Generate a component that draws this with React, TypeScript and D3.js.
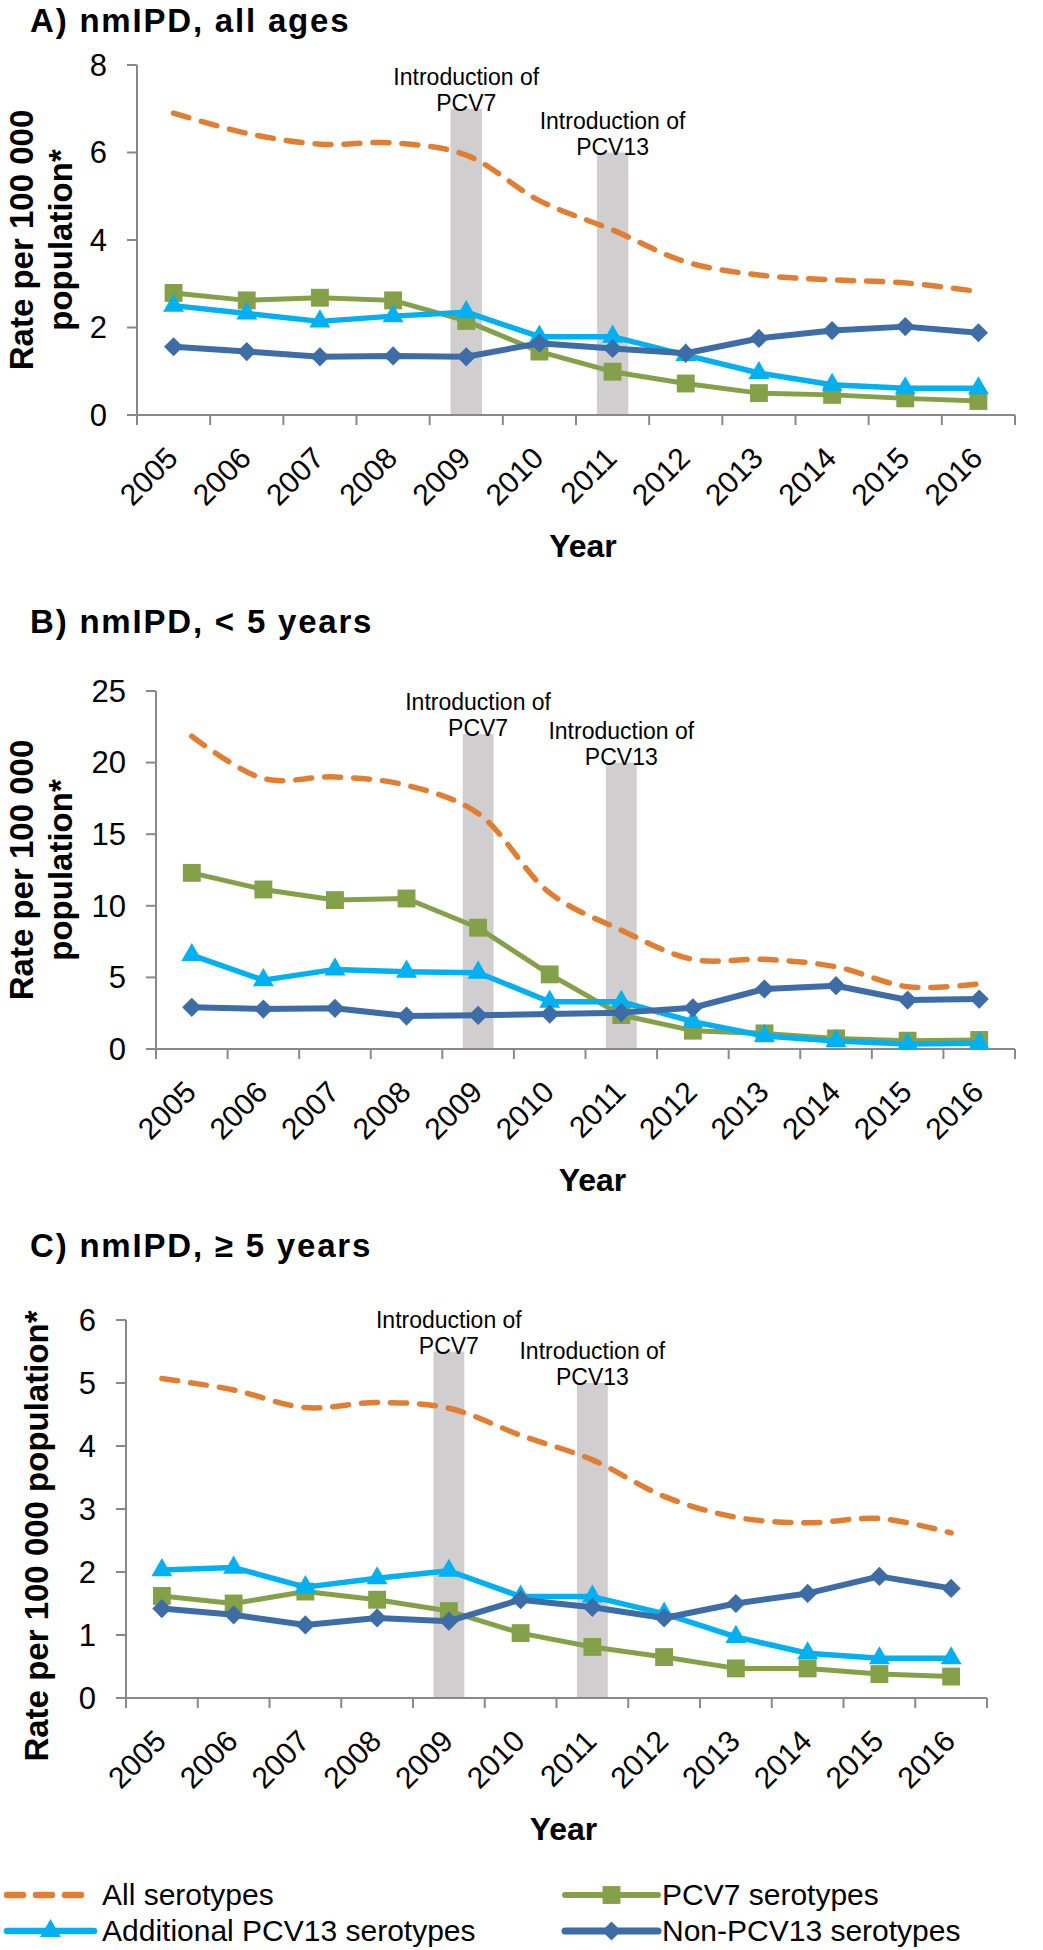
import { useEffect } from "react";
import * as d3 from "d3";

const years = ["2005", "2006", "2007", "2008", "2009", "2010", "2011", "2012", "2013", "2014", "2015", "2016"];

// A) all ages
const allA = [6.9, 6.44, 6.19, 6.22, 5.94, 4.9, 4.23, 3.5, 3.2, 3.09, 3.02, 2.82];
const pcv7A = [2.79, 2.62, 2.68, 2.62, 2.15, 1.45, 0.99, 0.72, 0.5, 0.46, 0.38, 0.32];
const addA = [2.5, 2.32, 2.14, 2.26, 2.35, 1.79, 1.79, 1.37, 0.96, 0.69, 0.61, 0.61];
const nonA = [1.56, 1.45, 1.33, 1.35, 1.33, 1.64, 1.52, 1.41, 1.75, 1.93, 2.02, 1.88];

// B) < 5 years
const allB = [21.84, 18.89, 19.0, 18.42, 16.45, 10.9, 8.3, 6.26, 6.26, 5.74, 4.35, 4.54];
const pcv7B = [12.3, 11.14, 10.4, 10.51, 8.47, 5.21, 2.37, 1.28, 1.09, 0.74, 0.58, 0.63];
const addB = [6.56, 4.81, 5.56, 5.4, 5.33, 3.3, 3.3, 1.91, 0.91, 0.56, 0.35, 0.4];
const nonB = [2.91, 2.79, 2.84, 2.3, 2.35, 2.44, 2.54, 2.88, 4.19, 4.42, 3.42, 3.49];

// C) >= 5 years
const allC = [5.07, 4.89, 4.61, 4.69, 4.6, 4.17, 3.78, 3.2, 2.87, 2.78, 2.85, 2.62];
const pcv7C = [1.62, 1.5, 1.69, 1.56, 1.38, 1.03, 0.81, 0.65, 0.47, 0.47, 0.38, 0.34];
const addC = [2.03, 2.07, 1.76, 1.9, 2.02, 1.61, 1.61, 1.34, 0.97, 0.71, 0.63, 0.63];
const nonC = [1.42, 1.32, 1.16, 1.27, 1.22, 1.56, 1.44, 1.27, 1.5, 1.66, 1.93, 1.74];

// vaccine introductions: year, label, bar height per panel
const introYears = ["2009", "2011"];
const introLabels = ["PCV7", "PCV13"];
const introA = [7, 6];
const introB = [22, 20];
const introC = [5.5, 5];

const seriesNames = ["All serotypes", "PCV7 serotypes", "Additional PCV13 serotypes", "Non-PCV13 serotypes"];

const FONT = "'Liberation Sans', Arial, Helvetica, sans-serif";
const AXIS = "#898989";
const BAR = "#D0CECE";

const styles = [
  { color: "#E07F34", width: 5.5, dash: "16 13", marker: "none" },
  { color: "#84A14A", width: 5, dash: "", marker: "square" },
  { color: "#00B0F0", width: 5.5, dash: "", marker: "triangle" },
  { color: "#3D6CA7", width: 6, dash: "", marker: "diamond" },
];

const markerPath = (m: string) => {
  if (m === "square") return d3.symbol().type(d3.symbolSquare).size(320)()!;
  if (m === "triangle") return d3.symbol().type(d3.symbolTriangle).size(190)()!;
  if (m === "diamond") return d3.symbol().type(d3.symbolSquare).size(185)()!;
  return "";
};

interface PanelCfg {
  title: string;
  titleY: number;
  left: number;
  right: number;
  top: number;
  bottom: number;
  yMax: number;
  yStep: number;
  yLabelLines: string[];
  yLabelX: number[];
  yLabelCy: number;
  series: number[][];
  intro: number[];
}

function Panel({ cfg }: { cfg: PanelCfg }) {
  const x = d3.scaleBand().domain(years).range([cfg.left, cfg.right]);
  const y = d3.scaleLinear().domain([0, cfg.yMax]).range([cfg.bottom, cfg.top]);
  const cx = (yr: string) => x(yr)! + x.bandwidth() / 2;
  const yTicks = d3.range(0, cfg.yMax + 1e-9, cfg.yStep);
  const xTicks = years.map((yr) => x(yr)!).concat([cfg.right]);
  const barW = x.bandwidth() * 0.43;

  return (
    <g fontFamily={FONT}>
      <text x={30} y={cfg.titleY} fontSize={33} fontWeight="bold" letterSpacing={1.8}>{cfg.title}</text>

      {/* intro bars */}
      {introYears.map((yr, i) => (
        <rect key={yr} x={cx(yr) - barW / 2} width={barW} y={y(cfg.intro[i])} height={cfg.bottom - y(cfg.intro[i])} fill={BAR} />
      ))}
      {introYears.map((yr, i) => (
        <text key={"t" + yr} x={cx(yr)} y={y(cfg.intro[i]) + 2} textAnchor="middle" fontSize={23}>
          <tspan x={cx(yr)} dy={-26}>Introduction of</tspan>
          <tspan x={cx(yr)} dy={26}>{introLabels[i]}</tspan>
        </text>
      ))}

      {/* axes */}
      <line x1={cfg.left} x2={cfg.left} y1={cfg.top} y2={cfg.bottom} stroke={AXIS} strokeWidth={2} />
      <line x1={cfg.left} x2={cfg.right} y1={cfg.bottom} y2={cfg.bottom} stroke={AXIS} strokeWidth={2} />
      {yTicks.map((t) => (
        <g key={t}>
          <line x1={cfg.left - 10} x2={cfg.left} y1={y(t)} y2={y(t)} stroke={AXIS} strokeWidth={2} />
          <text x={cfg.left - 30} y={y(t)} dy="0.35em" textAnchor="end" fontSize={31}>{t}</text>
        </g>
      ))}
      {xTicks.map((t, i) => (
        <line key={i} x1={t} x2={t} y1={cfg.bottom} y2={cfg.bottom + 10} stroke={AXIS} strokeWidth={2} />
      ))}
      {years.map((yr) => (
        <text key={yr} transform={`translate(${cx(yr) + 6},${cfg.bottom + 45}) rotate(-45)`} textAnchor="end" fontSize={30}>{yr}</text>
      ))}
      <text x={(cfg.left + cfg.right) / 2 + 7} y={cfg.bottom + 142} textAnchor="middle" fontSize={32} fontWeight="bold">Year</text>

      {cfg.yLabelLines.map((ln, i) => (
        <text key={ln} transform={`translate(${cfg.yLabelX[i]},${cfg.yLabelCy}) rotate(-90)`} textAnchor="middle" fontSize={33} fontWeight="bold">{ln}</text>
      ))}

      {/* series */}
      {cfg.series.map((vals, si) => {
        const st = styles[si];
        const line = d3.line<number>()
          .x((_, i) => cx(years[i]))
          .y((v) => y(v))
          .curve(si === 0 ? d3.curveCatmullRom.alpha(0.5) : d3.curveLinear);
        return (
          <g key={si}>
            <path d={line(vals)!} fill="none" stroke={st.color} strokeWidth={st.width} strokeDasharray={st.dash || undefined} strokeLinecap={st.dash ? "round" : "butt"} strokeLinejoin="round" />
            {st.marker !== "none" && vals.map((v, i) => (
              <path key={i} d={markerPath(st.marker)} fill={st.color}
                transform={`translate(${cx(years[i])},${y(v)})${st.marker === "diamond" ? " rotate(45)" : ""}`} />
            ))}
          </g>
        );
      })}
    </g>
  );
}

const panels: PanelCfg[] = [
  {
    title: "A) nmIPD, all ages", titleY: 32, left: 137, right: 1015, top: 65, bottom: 415, yMax: 8, yStep: 2,
    yLabelLines: ["Rate per 100 000", "population*"], yLabelX: [33, 72], yLabelCy: 240,
    series: [allA, pcv7A, addA, nonA], intro: introA,
  },
  {
    title: "B) nmIPD, < 5 years", titleY: 633, left: 156, right: 1015, top: 691, bottom: 1049, yMax: 25, yStep: 5,
    yLabelLines: ["Rate per 100 000", "population*"], yLabelX: [33, 72], yLabelCy: 870,
    series: [allB, pcv7B, addB, nonB], intro: introB,
  },
  {
    title: "C) nmIPD, \u2265 5 years", titleY: 1257, left: 126, right: 987, top: 1320, bottom: 1698, yMax: 6, yStep: 1,
    yLabelLines: ["Rate per 100 000 population*"], yLabelX: [48], yLabelCy: 1536,
    series: [allC, pcv7C, addC, nonC], intro: introC,
  },
];

function Legend() {
  const cols = [{ x1: 7, x2: 94, tx: 102 }, { x1: 565, x2: 658, tx: 662 }];
  const rows = [1905, 1941];
  const pos = [[0, 0], [1, 0], [0, 1], [1, 1]];
  return (
    <g fontFamily={FONT}>
      {seriesNames.map((name, i) => {
        const c = cols[pos[i][0]];
        const ry = rows[pos[i][1]];
        const my = ry - 10;
        const st = styles[i];
        return (
          <g key={name}>
            <line x1={c.x1} x2={c.x2} y1={my} y2={my} stroke={st.color} strokeWidth={st.width + 1}
              strokeDasharray={st.dash || undefined} strokeLinecap="round" />
            {st.marker !== "none" && (
              <path d={markerPath(st.marker)} fill={st.color}
                transform={`translate(${(c.x1 + c.x2) / 2},${my})${st.marker === "diamond" ? " rotate(45)" : ""}`} />
            )}
            <text x={c.tx} y={ry} fontSize={30}>{name}</text>
          </g>
        );
      })}
    </g>
  );
}

export default function App() {
  useEffect(() => {
    document.body.style.margin = "0";
  }, []);
  return (
    <svg width={1043} height={1950} style={{ display: "block", background: "#ffffff" }}>
      {panels.map((p) => (
        <Panel key={p.title} cfg={p} />
      ))}
      <Legend />
    </svg>
  );
}
